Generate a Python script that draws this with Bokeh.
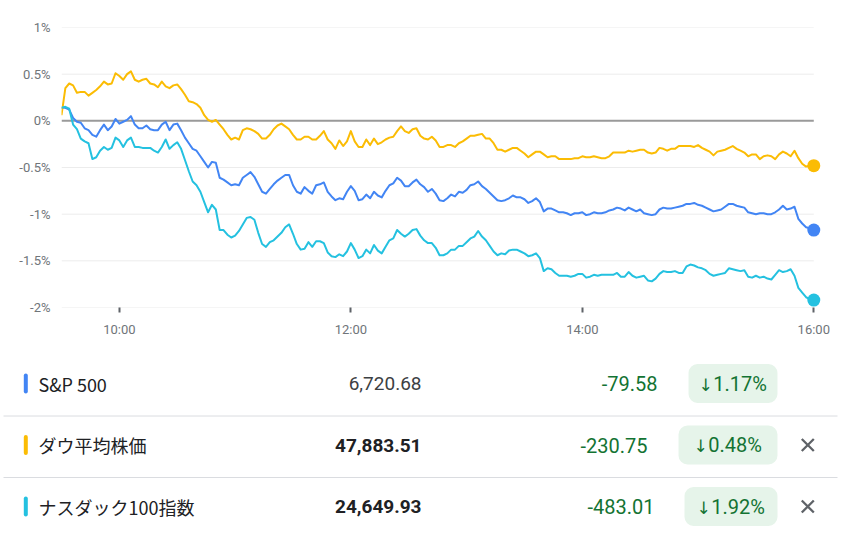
import numpy as np
from bokeh.plotting import figure
from bokeh.layouts import column
from bokeh.models import Range1d, FixedTicker
from bokeh.core.properties import value
from bokeh.embed import file_html
from bokeh.resources import INLINE

# ---------------- data ----------------
# intraday % change, sampled every 2 minutes from 9:30 to 16:00
sample_step_min = 2

sp500 = [
    0.14, 0.14, 0.12, 0.03, -0.01, -0.02, -0.08, -0.10, -0.15, -0.17,
    -0.10, -0.04, -0.10, -0.06, 0.02, -0.03, -0.01, 0.01, 0.05, -0.04,
    -0.08, -0.08, -0.05, -0.09, -0.10, -0.10, -0.04, -0.01, -0.10, -0.04,
    -0.03, -0.10, -0.18, -0.24, -0.30, -0.32, -0.38, -0.44,
    -0.50, -0.44, -0.45, -0.61, -0.63, -0.66, -0.69, -0.68, -0.69, -0.61,
    -0.58, -0.55, -0.60, -0.68, -0.76, -0.78, -0.73, -0.68, -0.64, -0.61,
    -0.58, -0.58, -0.69, -0.76, -0.78, -0.71, -0.75, -0.78, -0.69, -0.68,
    -0.66, -0.76, -0.81, -0.85, -0.83, -0.84, -0.76, -0.70,
    -0.75, -0.85, -0.84, -0.79, -0.83, -0.76, -0.80, -0.82, -0.75, -0.69,
    -0.67, -0.61, -0.64, -0.70, -0.70, -0.66, -0.63, -0.68, -0.71, -0.76,
    -0.73, -0.78, -0.85, -0.86, -0.83, -0.79, -0.81, -0.76, -0.77, -0.74,
    -0.69, -0.68, -0.65, -0.70, -0.73, -0.77, -0.81,
    -0.85, -0.86, -0.85, -0.83, -0.80, -0.82, -0.82, -0.84, -0.88, -0.86,
    -0.83, -0.87, -0.97, -0.94, -0.94, -0.96, -0.98, -0.98, -0.99, -1.01,
    -0.99, -0.99, -0.98, -1.01, -1.00, -0.98, -0.99, -0.99, -0.98, -0.96,
    -0.95, -0.93, -0.94, -0.96, -0.93, -0.95, -0.97, -0.95,
    -0.99, -1.00, -1.01, -1.00, -0.95, -0.93, -0.94, -0.94, -0.93, -0.92,
    -0.91, -0.89, -0.89, -0.88, -0.90, -0.91, -0.93, -0.95, -0.97, -0.96,
    -0.95, -0.92, -0.89, -0.89, -0.91, -0.92, -0.93, -0.98, -0.99, -1.00,
    -0.99, -0.99, -1.00, -1.00, -0.98, -0.95, -0.91, -0.95, -0.94, -0.92,
    -1.05, -1.10, -1.14, -1.15, -1.17,
]

dow = [
    0.06, 0.35, 0.40, 0.38, 0.30, 0.31, 0.31, 0.27, 0.30, 0.33,
    0.37, 0.42, 0.39, 0.40, 0.51, 0.48, 0.44, 0.50, 0.53, 0.44,
    0.42, 0.44, 0.45, 0.40, 0.39, 0.36, 0.42, 0.37, 0.35, 0.38,
    0.39, 0.34, 0.28, 0.21, 0.20, 0.18, 0.14, 0.06,
    0.01, -0.01, 0.01, -0.04, -0.09, -0.15, -0.20, -0.18, -0.20, -0.10,
    -0.08, -0.09, -0.11, -0.14, -0.19, -0.19, -0.15, -0.09, -0.05, -0.03,
    -0.06, -0.09, -0.15, -0.20, -0.20, -0.17, -0.17, -0.20, -0.20, -0.16,
    -0.11, -0.20, -0.24, -0.30, -0.21, -0.27, -0.22, -0.11,
    -0.22, -0.28, -0.28, -0.20, -0.26, -0.19, -0.25, -0.23, -0.20, -0.18,
    -0.17, -0.11, -0.06, -0.11, -0.13, -0.09, -0.08, -0.16, -0.19, -0.20,
    -0.17, -0.21, -0.28, -0.28, -0.26, -0.26, -0.28, -0.24, -0.22, -0.19,
    -0.16, -0.16, -0.15, -0.14, -0.19, -0.19, -0.24,
    -0.31, -0.31, -0.33, -0.31, -0.29, -0.29, -0.32, -0.35, -0.39, -0.36,
    -0.33, -0.33, -0.36, -0.39, -0.38, -0.38, -0.41, -0.41, -0.41, -0.41,
    -0.40, -0.40, -0.38, -0.39, -0.39, -0.38, -0.39, -0.40, -0.40, -0.38,
    -0.34, -0.34, -0.34, -0.34, -0.32, -0.33, -0.32, -0.31,
    -0.31, -0.34, -0.35, -0.34, -0.29, -0.30, -0.32, -0.30, -0.30, -0.27,
    -0.27, -0.27, -0.27, -0.28, -0.26, -0.29, -0.31, -0.33, -0.37, -0.33,
    -0.32, -0.31, -0.29, -0.27, -0.30, -0.32, -0.34, -0.38, -0.36, -0.36,
    -0.41, -0.38, -0.37, -0.38, -0.41, -0.36, -0.33, -0.35, -0.38, -0.32,
    -0.40, -0.46, -0.49, -0.48, -0.48,
]

ndx100 = [
    0.14, 0.15, 0.13, -0.04, -0.09, -0.19, -0.22, -0.24, -0.41, -0.39,
    -0.32, -0.28, -0.31, -0.29, -0.18, -0.21, -0.28, -0.21, -0.18, -0.28,
    -0.28, -0.29, -0.29, -0.29, -0.32, -0.34, -0.28, -0.20, -0.30, -0.26,
    -0.23, -0.30, -0.42, -0.54, -0.65, -0.69, -0.76, -0.87,
    -0.98, -0.90, -0.95, -1.17, -1.17, -1.22, -1.25, -1.23, -1.18, -1.11,
    -1.04, -1.03, -1.06, -1.20, -1.32, -1.35, -1.30, -1.28, -1.24, -1.20,
    -1.14, -1.11, -1.21, -1.32, -1.38, -1.37, -1.30, -1.35, -1.29, -1.29,
    -1.31, -1.41, -1.45, -1.46, -1.43, -1.45, -1.40, -1.31,
    -1.38, -1.47, -1.45, -1.38, -1.42, -1.33, -1.39, -1.42, -1.35, -1.28,
    -1.26, -1.17, -1.21, -1.24, -1.21, -1.17, -1.16, -1.23, -1.28, -1.31,
    -1.31, -1.36, -1.44, -1.44, -1.42, -1.38, -1.38, -1.34, -1.34, -1.30,
    -1.26, -1.24, -1.18, -1.24, -1.28, -1.34, -1.40,
    -1.44, -1.42, -1.43, -1.39, -1.38, -1.38, -1.40, -1.42, -1.45, -1.44,
    -1.42, -1.47, -1.61, -1.58, -1.59, -1.63, -1.66, -1.66, -1.66, -1.67,
    -1.66, -1.64, -1.64, -1.68, -1.67, -1.65, -1.66, -1.65, -1.65, -1.65,
    -1.65, -1.63, -1.67, -1.67, -1.62, -1.66, -1.68, -1.67,
    -1.66, -1.71, -1.72, -1.69, -1.64, -1.61, -1.62, -1.62, -1.61, -1.63,
    -1.63, -1.56, -1.54, -1.55, -1.57, -1.58, -1.60, -1.64, -1.66, -1.65,
    -1.64, -1.63, -1.58, -1.59, -1.60, -1.61, -1.60, -1.67, -1.68, -1.66,
    -1.68, -1.67, -1.69, -1.70, -1.65, -1.60, -1.62, -1.61, -1.59, -1.66,
    -1.79, -1.84, -1.89, -1.91, -1.92,
]

session_open = "9:30"
x_tick_labels = ["10:00", "12:00", "14:00", "16:00"]
y_ticks = [-2, -1.5, -1, -0.5, 0, 0.5, 1]

names = ["S&P 500", "ダウ平均株価", "ナスダック100指数"]
prices = ["6,720.68", "47,883.51", "24,649.93"]
changes = ["-79.58", "-230.75", "-483.01"]
pct_changes = ["1.17%", "0.48%", "1.92%"]
removable = [False, True, True]

# ---------------- styles ----------------
series_colors = ["#4285f4", "#fbbc04", "#24c1e0"]
axis_text = "#70757a"
green = "#137333"
pill_fill = "#e6f4ea"

def to_min(s):
    h, m = s.split(":")
    return int(h) * 60 + int(m)

open_min = to_min(session_open)
series = [sp500, dow, ndx100]
n = len(sp500)
assert len(dow) == n and len(ndx100) == n
minutes = np.arange(n) * sample_step_min
x_ticks = [to_min(t) - open_min for t in x_tick_labels]

# ---------------- chart ----------------
W = 848
CH = 353
p = figure(width=W, height=CH, output_backend="svg", toolbar_location=None,
           x_range=Range1d(0, 394), y_range=Range1d(-2, 1),
           min_border_left=61, min_border_right=27, min_border_top=27,
           min_border_bottom=46)
p.frame_align = False
p.outline_line_color = None
p.xgrid.visible = False
p.ygrid.visible = False
p.background_fill_color = "white"
p.border_fill_color = "white"

# grid lines across the trading session
grid_y = [t for t in y_ticks if t != 0]
p.segment(x0=[0] * len(grid_y), x1=[x_ticks[-1]] * len(grid_y), y0=grid_y, y1=grid_y,
          line_color="#ececec", line_width=1)
p.segment(x0=[0], x1=[x_ticks[-1]], y0=[0], y1=[0], line_color="#9a9a9a", line_width=2)

for vals, col in zip(series, series_colors):
    p.line(minutes, vals, line_color=col, line_width=2, line_join="round")
for vals, col in zip(series, series_colors):
    p.scatter([minutes[-1]], [vals[-1]], size=13, fill_color=col, line_color=None)

p.yaxis.ticker = FixedTicker(ticks=y_ticks)
p.yaxis.major_label_overrides = {t: f"{t:g}%" for t in y_ticks}
p.yaxis.axis_line_color = None
p.yaxis.major_tick_line_color = None
p.yaxis.minor_tick_line_color = None
p.yaxis.major_tick_out = 0
p.yaxis.major_tick_in = 0
p.yaxis.major_label_standoff = 11
p.yaxis.major_label_text_font = "Roboto"
p.yaxis.major_label_text_font_size = "13px"
p.yaxis.major_label_text_color = axis_text

p.xaxis.ticker = FixedTicker(ticks=x_ticks)
p.xaxis.major_label_overrides = {t: lab for t, lab in zip(x_ticks, x_tick_labels)}
p.xaxis.axis_line_color = None
p.xaxis.minor_tick_line_color = None
p.xaxis.major_tick_line_color = "#5f6368"
p.xaxis.major_tick_line_width = 2
p.xaxis.major_tick_out = 5
p.xaxis.major_tick_in = 0
p.xaxis.major_label_standoff = 9
p.xaxis.major_label_text_font = "Roboto"
p.xaxis.major_label_text_font_size = "13px"
p.xaxis.major_label_text_color = axis_text

# ---------------- table ----------------
TH = 536 - CH
t = figure(width=W, height=TH, output_backend="svg", toolbar_location=None,
           x_range=Range1d(0, W), y_range=Range1d(TH, 0),
           min_border=0, min_border_left=0, min_border_right=0,
           min_border_top=0, min_border_bottom=0)
t.frame_align = False
t.axis.visible = False
t.grid.visible = False
t.outline_line_color = None

row0, row_step = 30, 61.5
rows = [row0 + i * row_step for i in range(len(names))]

# separators
sep_y = [r + 32.5 for r in rows[:-1]]
t.segment(x0=[3] * len(sep_y), x1=[837] * len(sep_y), y0=sep_y, y1=sep_y,
          line_color="#dadce0", line_width=1)

# colour markers
t.segment(x0=[25.3] * 3, x1=[25.3] * 3, y0=[r - 8 for r in rows], y1=[r + 8 for r in rows],
          line_color=series_colors, line_width=4, line_cap="round")

t.text(x=[38] * 3, y=rows, text=names, text_font=value("Noto Sans CJK JP"),
       text_font_size="18px", text_color="#202124", text_baseline="middle",
       text_align="left")

price_weight = ["normal", "bold", "bold"]
price_color = ["#3c4043", "#202124", "#202124"]
for i in range(3):
    t.text(x=[421], y=[rows[i]], text=[prices[i]], text_font=value("Roboto"),
           text_font_size="19px", text_color=price_color[i], text_baseline="middle",
           text_align="right", text_font_style=price_weight[i])

change_right = [657, 647, 654]
t.text(x=change_right, y=rows, text=changes, text_font=value("Roboto"),
       text_font_size="20px", text_color=green, text_baseline="middle",
       text_align="right")

pill_left = [688, 678, 684]
pill_right = [777] * 3
t.quad(left=pill_left, right=pill_right, top=[r - 19.5 for r in rows],
       bottom=[r + 19.5 for r in rows], fill_color=pill_fill, line_color=None,
       border_radius=9)

# arrow + percentage centred inside each pill
content_w = 68.0
pill_mid = [(a + b) / 2 for a, b in zip(pill_left, pill_right)]
content_left = [m - content_w / 2 for m in pill_mid]
t.text(x=[c + content_w for c in content_left], y=rows, text=pct_changes,
       text_font=value("Roboto"), text_font_size="20px", text_color=green,
       text_baseline="middle", text_align="right")
t.text(x=[c + 6.5 for c in content_left], y=[r + 1 for r in rows], text=["\u2193"] * 3,
       text_font=value("DejaVu Sans"), text_font_size="17px", text_color=green,
       text_baseline="middle", text_align="center")

x_rows = [r for r, rm in zip(rows, removable) if rm]
t.scatter(x=[807.3] * len(x_rows), y=x_rows, marker="x", size=17,
          line_color="#5f6368", line_width=2.3)

layout = column(p, t, spacing=0)
open("out.html", "w").write(file_html(layout, INLINE))
